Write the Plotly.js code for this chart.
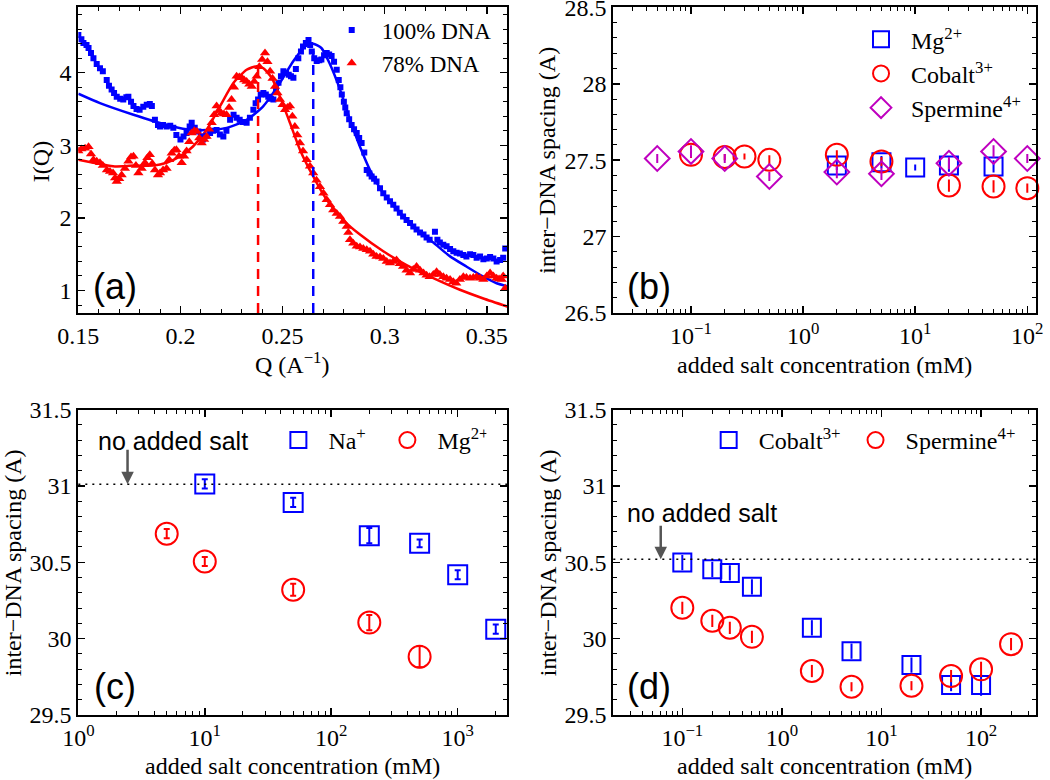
<!DOCTYPE html>
<html><head><meta charset="utf-8">
<script src="https://cdn.plot.ly/plotly-3.0.1.min.js"></script>
<style>html,body{margin:0;padding:0;background:#fff;overflow:hidden}#chart{width:1050px;height:780px}</style>
</head><body><div id="chart"></div>
<script>
// ---------- Panel (a): I(Q) ----------
const qBlue = [0.1500,0.1515,0.1525,0.1540,0.1550,0.1562,0.1574,0.1590,0.1606,0.1620,0.1639,0.1650,0.1663,0.1675,0.1688,0.1705,0.1720,0.1735,0.1745,0.1758,0.1770,0.1785,0.1800,0.1818,0.1835,0.1850,0.1860,0.1875,0.1890,0.1900,0.1915,0.1932,0.1950,0.1965,0.1980,0.2000,0.2015,0.2030,0.2045,0.2055,0.2070,0.2088,0.2100,0.2110,0.2128,0.2145,0.2160,0.2177,0.2193,0.2210,0.2225,0.2243,0.2260,0.2275,0.2290,0.2305,0.2324,0.2340,0.2357,0.2368,0.2380,0.2393,0.2406,0.2418,0.2430,0.2443,0.2455,0.2468,0.2480,0.2492,0.2504,0.2517,0.2530,0.2541,0.2553,0.2565,0.2577,0.2590,0.2600,0.2614,0.2627,0.2635,0.2643,0.2655,0.2667,0.2680,0.2690,0.2703,0.2716,0.2728,0.2740,0.2752,0.2765,0.2775,0.2783,0.2790,0.2800,0.2807,0.2814,0.2826,0.2838,0.2850,0.2863,0.2875,0.2887,0.2900,0.2912,0.2925,0.2936,0.2948,0.2960,0.2977,0.2993,0.3010,0.3026,0.3042,0.3058,0.3074,0.3090,0.3107,0.3124,0.3140,0.3156,0.3173,0.3190,0.3205,0.3220,0.3246,0.3258,0.3270,0.3287,0.3303,0.3320,0.3336,0.3352,0.3368,0.3385,0.3400,0.3418,0.3434,0.3450,0.3467,0.3483,0.3500,0.3516,0.3532,0.3548,0.3565,0.3580,0.3590];
const iBlue = [4.52,4.46,4.41,4.38,4.34,4.27,4.20,4.12,4.06,4.02,3.90,3.82,3.77,3.72,3.67,3.64,3.63,3.66,3.67,3.60,3.54,3.50,3.49,3.53,3.56,3.57,3.54,3.35,3.28,3.26,3.28,3.26,3.27,3.24,3.14,3.08,3.12,3.17,3.26,3.31,3.24,3.19,3.12,3.08,3.13,3.17,3.20,3.21,3.15,3.12,3.20,3.35,3.42,3.38,3.35,3.32,3.31,3.38,3.49,3.58,3.63,3.70,3.72,3.70,3.67,3.64,3.63,3.75,3.86,3.95,4.02,4.00,3.97,3.95,3.93,4.05,4.20,4.29,4.36,4.41,4.45,4.38,4.29,4.20,4.16,4.17,4.18,4.24,4.27,4.25,4.23,4.15,4.04,3.90,3.80,3.70,3.60,3.52,3.44,3.36,3.28,3.22,3.17,3.10,3.03,2.90,2.66,2.61,2.57,2.54,2.50,2.41,2.34,2.28,2.23,2.18,2.13,2.07,2.02,1.97,1.93,1.88,1.84,1.80,1.77,1.73,1.70,1.81,1.70,1.66,1.63,1.61,1.57,1.54,1.52,1.51,1.49,1.47,1.50,1.49,1.45,1.47,1.43,1.44,1.46,1.44,1.40,1.42,1.45,1.58];
const qRed = [0.1500,0.1515,0.1533,0.1550,0.1562,0.1574,0.1590,0.1606,0.1620,0.1640,0.1655,0.1670,0.1680,0.1688,0.1700,0.1712,0.1728,0.1745,0.1758,0.1770,0.1782,0.1794,0.1810,0.1826,0.1838,0.1850,0.1862,0.1875,0.1890,0.1900,0.1915,0.1932,0.1945,0.1957,0.1970,0.1980,0.1993,0.2006,0.2018,0.2030,0.2043,0.2055,0.2068,0.2080,0.2092,0.2104,0.2116,0.2128,0.2140,0.2153,0.2165,0.2177,0.2188,0.2200,0.2213,0.2226,0.2238,0.2250,0.2262,0.2275,0.2288,0.2300,0.2312,0.2324,0.2337,0.2349,0.2361,0.2373,0.2386,0.2400,0.2414,0.2426,0.2439,0.2451,0.2463,0.2475,0.2487,0.2500,0.2512,0.2524,0.2536,0.2548,0.2560,0.2572,0.2585,0.2600,0.2618,0.2634,0.2650,0.2666,0.2683,0.2700,0.2716,0.2732,0.2748,0.2765,0.2781,0.2797,0.2814,0.2822,0.2830,0.2846,0.2863,0.2879,0.2895,0.2912,0.2928,0.2944,0.2960,0.2977,0.2993,0.3010,0.3026,0.3042,0.3058,0.3074,0.3090,0.3107,0.3124,0.3140,0.3156,0.3173,0.3190,0.3205,0.3220,0.3238,0.3254,0.3270,0.3287,0.3303,0.3320,0.3336,0.3350,0.3368,0.3385,0.3400,0.3418,0.3434,0.3450,0.3467,0.3483,0.3500,0.3516,0.3532,0.3548,0.3560,0.3573,0.3580,0.3590];
const iRed = [2.92,2.95,2.96,2.98,2.88,2.80,2.78,2.76,2.72,2.66,2.64,2.62,2.55,2.50,2.54,2.59,2.68,2.78,2.84,2.85,2.72,2.62,2.68,2.76,2.83,2.87,2.75,2.66,2.59,2.62,2.66,2.68,2.80,2.89,2.93,2.94,2.85,2.76,2.85,2.92,3.05,3.17,3.20,3.19,3.10,3.03,3.08,3.12,3.22,3.31,3.42,3.54,3.48,3.44,3.43,3.42,3.52,3.63,3.80,3.95,3.94,3.93,3.90,3.88,3.84,3.81,3.88,3.95,4.08,4.18,4.27,4.15,4.02,3.92,3.81,3.72,3.63,3.56,3.49,3.52,3.54,3.40,3.26,3.14,3.03,2.92,2.80,2.71,2.62,2.52,2.43,2.34,2.25,2.18,2.11,2.06,2.02,1.95,1.88,1.80,1.70,1.65,1.61,1.60,1.58,1.56,1.54,1.50,1.47,1.46,1.44,1.40,1.38,1.40,1.42,1.37,1.33,1.28,1.24,1.29,1.33,1.28,1.24,1.21,1.19,1.22,1.26,1.22,1.19,1.17,1.15,1.12,1.10,1.15,1.19,1.18,1.17,1.18,1.19,1.17,1.15,1.20,1.24,1.20,1.17,1.16,1.15,1.20,1.03];
const qFitBlue = [0.150,0.1606,0.177,0.1932,0.203,0.2128,0.2226,0.2324,0.2406,0.2487,0.2553,0.261,0.265,0.269,0.273,0.2781,0.283,0.2879,0.2928,0.2993,0.3075,0.3156,0.3238,0.332,0.340,0.3483,0.3548,0.360];
const iFitBlue = [3.71,3.58,3.42,3.28,3.22,3.21,3.24,3.35,3.54,3.86,4.16,4.36,4.40,4.34,4.13,3.77,3.35,2.98,2.66,2.34,2.07,1.84,1.66,1.47,1.33,1.19,1.10,1.06];
const qFitRed = [0.150,0.1574,0.167,0.177,0.1867,0.1932,0.200,0.206,0.2128,0.2194,0.226,0.2324,0.2373,0.2406,0.2447,0.2487,0.2536,0.2585,0.265,0.2716,0.2797,0.2879,0.2993,0.3107,0.3238,0.3368,0.3483,0.360];
const iFitRed = [2.80,2.76,2.71,2.72,2.72,2.76,2.85,2.98,3.21,3.54,3.86,4.04,4.09,4.06,3.93,3.67,3.31,2.94,2.57,2.25,1.97,1.77,1.54,1.35,1.17,1.01,0.89,0.78];
const peakQ = [0.265, 0.238];      // 100% DNA, 78% DNA
const peakI = [4.30, 4.07];
const seriesNamesA = ['100% DNA', '78% DNA'];
const rangeA_x = [0.15, 0.36], rangeA_y = [0.69, 4.9];
const ticksA_x = [0.15, 0.2, 0.25, 0.3, 0.35], tickTextA_x = ['0.15','0.2','0.25','0.3','0.35'];
const ticksA_y = [1, 2, 3, 4];

// ---------- Panel (b) ----------
const xMg_b = [2, 5, 10, 20, 50];
const yMg_b = [27.465, 27.487, 27.452, 27.465, 27.459];
const eMg_b = [0.03, 0.04, 0.02, 0.04, 0.04];
const xCo_b = [0.1, 0.2, 0.3, 0.5, 2, 5, 20, 50, 100];
const yCo_b = [27.535, 27.520, 27.524, 27.502, 27.535, 27.491, 27.334, 27.328, 27.317];
const eCo_b = [0.02, 0.02, 0.02, 0.03, 0.03, 0.03, 0.04, 0.04, 0.03];
const xSp_b = [0.05, 0.1, 0.2, 0.5, 2, 5, 20, 50, 100];
const ySp_b = [27.511, 27.557, 27.511, 27.393, 27.422, 27.411, 27.480, 27.557, 27.511];
const eSp_b = [0.03, 0.04, 0.03, 0.03, 0.04, 0.04, 0.04, 0.04, 0.03];
const namesB = ['Mg<sup>2+</sup>', 'Cobalt<sup>3+</sup>', 'Spermine<sup>4+</sup>'];
const ticksB_y = [26.5, 27, 27.5, 28, 28.5];

// ---------- Panel (c) ----------
const xNa_c = [10, 50, 200, 500, 1000, 2000];
const yNa_c = [31.013, 30.892, 30.674, 30.624, 30.418, 30.062];
const eNa_c = [0.03, 0.03, 0.05, 0.025, 0.03, 0.03];
const xMg_c = [5, 10, 50, 200, 500];
const yMg_c = [30.687, 30.505, 30.320, 30.105, 29.882];
const eMg_c = [0.03, 0.03, 0.04, 0.05, 0.07];
const namesC = ['Na<sup>+</sup>', 'Mg<sup>2+</sup>'];
const noSalt_c = 31.01, arrowX_c = 2.45;

// ---------- Panel (d) ----------
const xCo_d = [0.1, 0.2, 0.3, 0.5, 2, 5, 20, 50, 100];
const yCo_d = [30.498, 30.454, 30.430, 30.339, 30.071, 29.918, 29.827, 29.696, 29.696];
const eCo_d = [0.05, 0.05, 0.05, 0.05, 0.05, 0.05, 0.05, 0.04, 0.07];
const xSp_d = [0.1, 0.2, 0.3, 0.5, 2, 5, 20, 50, 100, 200];
const ySp_d = [30.202, 30.117, 30.071, 30.012, 29.788, 29.685, 29.692, 29.755, 29.799, 29.964];
const eSp_d = [0.04, 0.04, 0.04, 0.04, 0.04, 0.03, 0.03, 0.04, 0.05, 0.04];
const namesD = ['Cobalt<sup>3+</sup>', 'Spermine<sup>4+</sup>'];
const noSalt_d = 30.52, arrowX_d = 0.0607;
const ticksCD_y = [29.5, 30, 30.5, 31, 31.5];

const xTitle = 'added salt concentration (mM)';
const yTitle = 'inter\u2212DNA spacing (A)';
const noSaltText = 'no added salt';

// ---------- styling ----------
const BLUE = '#0000ff', RED = '#ff0000', PURPLE = '#bf00bf';
const serif = 'Liberation Serif';
const sans = 'Liberation Sans';
const TICK = 24, TITLE = 24;

function seq(a, b, s) { const o = []; for (let v = a; v <= b + 1e-9; v += s) o.push(Math.round(v * 1e6) / 1e6); return o; }
function logMinor(k0, k1) { const o = []; for (let k = k0; k <= k1; k++) for (let m = 2; m <= 9; m++) o.push(m * Math.pow(10, k)); return o; }
function sup(p) { return '10<sup>' + (p < 0 ? '\u2212' + (-p) : p) + '</sup>'; }

function ax(extra, minorVals) {
  return Object.assign({
    showline: true, linecolor: 'black', linewidth: 2, mirror: 'ticks',
    ticks: 'inside', ticklen: 7, tickwidth: 1.5, tickcolor: 'black',
    showgrid: false, zeroline: false, fixedrange: true, ticklabeloverflow: 'allow',
    tickfont: { family: serif, size: TICK, color: 'black' },
    minor: { tickmode: 'array', tickvals: minorVals, ticks: 'inside', ticklen: 4, tickwidth: 1, tickcolor: 'black', showgrid: false }
  }, extra);
}

const domXL = [0.0746, 0.4831], domXR = [0.5841, 0.9867];
const domYT = [0.5987, 0.9906], domYB = [0.0833, 0.4750];

function errBar(arr, col, w) { return { type: 'data', array: arr, visible: true, color: col, thickness: 2, width: w }; }

const traces = [
  // (a)
  { x: qFitBlue, y: iFitBlue, mode: 'lines', line: { color: BLUE, width: 2.5, shape: 'spline', smoothing: 0.6 }, showlegend: false, xaxis: 'x', yaxis: 'y' },
  { x: qFitRed, y: iFitRed, mode: 'lines', line: { color: RED, width: 2.5, shape: 'spline', smoothing: 0.6 }, showlegend: false, xaxis: 'x', yaxis: 'y' },
  { x: qBlue, y: iBlue, mode: 'markers', name: seriesNamesA[0], marker: { symbol: 'square', size: 6, color: BLUE }, xaxis: 'x', yaxis: 'y', legend: 'legend' },
  { x: qRed, y: iRed, mode: 'markers', name: seriesNamesA[1], marker: { symbol: 'triangle-up', size: 9, color: RED }, xaxis: 'x', yaxis: 'y', legend: 'legend' },
  { x: [peakQ[0], peakQ[0]], y: [rangeA_y[0], peakI[0]], mode: 'lines', line: { color: BLUE, width: 2.5, dash: '10px,7px' }, showlegend: false, xaxis: 'x', yaxis: 'y' },
  { x: [peakQ[1], peakQ[1]], y: [rangeA_y[0], peakI[1]], mode: 'lines', line: { color: RED, width: 2.5, dash: '10px,7px' }, showlegend: false, xaxis: 'x', yaxis: 'y' },
  // (b)
  { x: xMg_b, y: yMg_b, error_y: errBar(eMg_b, BLUE, 0), mode: 'markers', name: namesB[0], marker: { symbol: 'square-open', size: 18, color: BLUE, line: { width: 2 } }, xaxis: 'x2', yaxis: 'y2', legend: 'legend2', cliponaxis: false },
  { x: xCo_b, y: yCo_b, error_y: errBar(eCo_b, RED, 0), mode: 'markers', name: namesB[1], marker: { symbol: 'circle-open', size: 22, color: RED, line: { width: 2 } }, xaxis: 'x2', yaxis: 'y2', legend: 'legend2', cliponaxis: false },
  { x: xSp_b, y: ySp_b, error_y: errBar(eSp_b, PURPLE, 0), mode: 'markers', name: namesB[2], marker: { symbol: 'diamond-open', size: 19, color: PURPLE, line: { width: 2 } }, xaxis: 'x2', yaxis: 'y2', legend: 'legend2', cliponaxis: false },
  // (c)
  { x: xNa_c, y: yNa_c, error_y: errBar(eNa_c, BLUE, 3), mode: 'markers', name: namesC[0], marker: { symbol: 'square-open', size: 19, color: BLUE, line: { width: 2 } }, xaxis: 'x3', yaxis: 'y3', legend: 'legend3', cliponaxis: false },
  { x: xMg_c, y: yMg_c, error_y: errBar(eMg_c, RED, 3), mode: 'markers', name: namesC[1], marker: { symbol: 'circle-open', size: 22, color: RED, line: { width: 2 } }, xaxis: 'x3', yaxis: 'y3', legend: 'legend3', cliponaxis: false },
  // (d)
  { x: xCo_d, y: yCo_d, error_y: errBar(eCo_d, BLUE, 0), mode: 'markers', name: namesD[0], marker: { symbol: 'square-open', size: 18, color: BLUE, line: { width: 2 } }, xaxis: 'x4', yaxis: 'y4', legend: 'legend4', cliponaxis: false },
  { x: xSp_d, y: ySp_d, error_y: errBar(eSp_d, RED, 0), mode: 'markers', name: namesD[1], marker: { symbol: 'circle-open', size: 22, color: RED, line: { width: 2 } }, xaxis: 'x4', yaxis: 'y4', legend: 'legend4', cliponaxis: false }
];

const legBase = { bgcolor: 'rgba(0,0,0,0)', borderwidth: 0, xanchor: 'left', yanchor: 'top', itemwidth: 50, tracegroupgap: 0, itemclick: false, itemdoubleclick: false };

function note(xref, yref, x, y, text, font, extra) {
  return Object.assign({ xref: xref, yref: yref, x: x, y: y, text: text, showarrow: false, xanchor: 'center', yanchor: 'middle', font: font }, extra || {});
}
const fSerif = { family: serif, size: TITLE, color: 'black' };
const fLabel = { family: sans, size: 36, color: 'black' };
const fNote = { family: sans, size: 25, color: 'black' };

const layout = {
  width: 1050, height: 780,
  margin: { l: 0, r: 0, t: 0, b: 0 },
  paper_bgcolor: 'white', plot_bgcolor: 'white',
  font: { family: serif, color: 'black', size: TICK },
  hovermode: false,
  xaxis: ax({ domain: domXL, anchor: 'y', range: rangeA_x, tickmode: 'array', tickvals: ticksA_x, ticktext: tickTextA_x }, seq(0.15, 0.36, 0.01)),
  yaxis: ax({ domain: domYT, anchor: 'x', range: rangeA_y, tickmode: 'array', tickvals: ticksA_y, ticktext: ticksA_y.map(String) }, seq(0.8, 4.8, 0.2)),
  xaxis2: ax({ domain: domXR, anchor: 'y2', type: 'log', range: [-1.693, 2.078], tickmode: 'array', tickvals: [0.1, 1, 10, 100], ticktext: [sup(-1), sup(0), sup(1), sup(2)] }, logMinor(-2, 2)),
  yaxis2: ax({ domain: domYT, anchor: 'x2', range: [26.5, 28.5], tickmode: 'array', tickvals: ticksB_y, ticktext: ['26.5', '27', '27.5', '28', '28.5'] }, seq(26.5, 28.5, 0.1)),
  xaxis3: ax({ domain: domXL, anchor: 'y3', type: 'log', range: [0, 3.392], tickmode: 'array', tickvals: [1, 10, 100, 1000], ticktext: [sup(0), sup(1), sup(2), sup(3)] }, logMinor(0, 3)),
  yaxis3: ax({ domain: domYB, anchor: 'x3', range: [29.5, 31.5], tickmode: 'array', tickvals: ticksCD_y, ticktext: ['29.5', '30', '30.5', '31', '31.5'] }, seq(29.5, 31.5, 0.1)),
  xaxis4: ax({ domain: domXR, anchor: 'y4', type: 'log', range: [-1.693, 2.552], tickmode: 'array', tickvals: [0.1, 1, 10, 100], ticktext: [sup(-1), sup(0), sup(1), sup(2)] }, logMinor(-2, 2)),
  yaxis4: ax({ domain: domYB, anchor: 'x4', range: [29.5, 31.5], tickmode: 'array', tickvals: ticksCD_y, ticktext: ['29.5', '30', '30.5', '31', '31.5'] }, seq(29.5, 31.5, 0.1)),
  legend: Object.assign({}, legBase, { x: 0.3064, y: 0.989, font: { family: serif, size: 23, color: 'black' } }),
  legend2: Object.assign({}, legBase, { x: 0.8105, y: 0.978, font: { family: serif, size: 24, color: 'black' } }),
  legend3: Object.assign({}, legBase, { x: 0.2556, y: 0.4641, orientation: 'h', entrywidth: 44, font: { family: serif, size: 24, color: 'black' } }),
  legend4: Object.assign({}, legBase, { x: 0.6654, y: 0.4641, orientation: 'h', font: { family: serif, size: 24, color: 'black' } }),
  shapes: [
    { type: 'line', xref: 'x3 domain', yref: 'y3', x0: 0, x1: 1, y0: noSalt_c, y1: noSalt_c, line: { color: 'black', width: 1.5, dash: '2px,5px' } },
    { type: 'line', xref: 'x4 domain', yref: 'y4', x0: 0, x1: 1, y0: noSalt_d, y1: noSalt_d, line: { color: 'black', width: 1.5, dash: '2px,5px' } }
  ],
  annotations: [
    // panel labels
    note('x domain', 'y domain', 0.0855, 0.086, '(a)', fLabel),
    note('x2 domain', 'y2 domain', 0.0845, 0.086, '(b)', fLabel),
    note('x3 domain', 'y3 domain', 0.0855, 0.093, '(c)', fLabel),
    note('x4 domain', 'y4 domain', 0.0845, 0.093, '(d)', fLabel),
    // axis titles
    note('paper', 'paper', 0.279, 0.535, 'Q (A<sup>\u22121</sup>)', fSerif),
    note('paper', 'paper', 0.785, 0.532, xTitle, fSerif),
    note('paper', 'paper', 0.2786, 0.018, xTitle, fSerif),
    note('paper', 'paper', 0.785, 0.018, xTitle, fSerif),
    note('paper', 'paper', 0.0397, 0.793, 'I(Q)', fSerif, { textangle: -90 }),
    note('paper', 'paper', 0.5207, 0.795, yTitle, fSerif, { textangle: -90 }),
    note('paper', 'paper', 0.0125, 0.278, yTitle, fSerif, { textangle: -90 }),
    note('paper', 'paper', 0.5220, 0.278, yTitle, fSerif, { textangle: -90 }),
    // no added salt
    note('x3 domain', 'y3 domain', 0.2207, 0.896, noSaltText, fNote),
    note('x4 domain', 'y4 domain', 0.210, 0.660, noSaltText, fNote),
    { xref: 'x3', yref: 'y3', x: Math.log10(arrowX_c), y: noSalt_c, ax: 0, ay: -36, text: '', showarrow: true, arrowhead: 2, arrowsize: 1, arrowwidth: 2.5, arrowcolor: '#555555', standoff: 0 },
    { xref: 'x4', yref: 'y4', x: Math.log10(arrowX_d), y: noSalt_d, ax: 0, ay: -35, text: '', showarrow: true, arrowhead: 2, arrowsize: 1, arrowwidth: 2.5, arrowcolor: '#555555', standoff: 0 }
  ]
};

Plotly.newPlot('chart', traces, layout, { displayModeBar: false, staticPlot: true });
</script>
</body></html>
